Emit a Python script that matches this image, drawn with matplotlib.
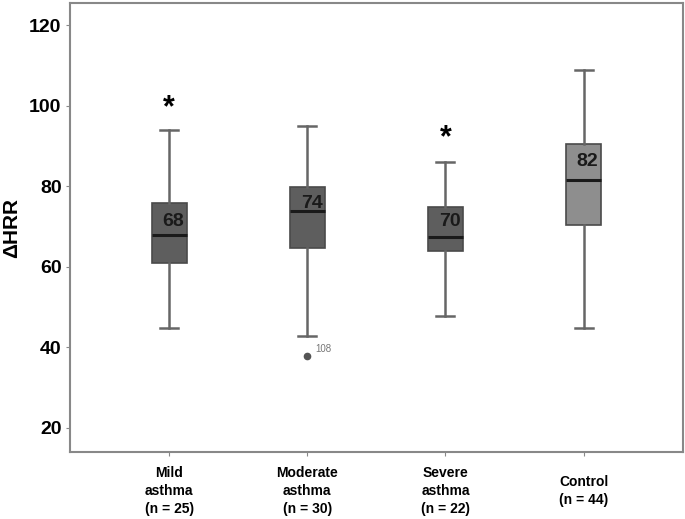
import matplotlib.pyplot as plt

plt.rcParams['font.family'] = ['Liberation Sans', 'DejaVu Sans']

# data
groups = ["Mild\nasthma\n(n = 25)", "Moderate\nasthma\n(n = 30)",
          "Severe\nasthma\n(n = 22)", "Control\n(n = 44)"]
whislo = [44.8, 42.8, 47.9, 44.9]
q1 = [60.9, 64.8, 63.9, 70.4]
med = [67.9, 73.8, 67.4, 81.5]
q3 = [75.9, 79.9, 74.9, 90.4]
whishi = [94.0, 95.0, 86.0, 109.0]
fliers = [[], [37.9], [], []]
median_labels = ["68", "74", "70", "82"]
median_label_y = [71.3, 75.7, 71.3, 86.2]
star_y = [99.5, None, 92.0, None]
box_colors = ["#5e5e5e", "#5e5e5e", "#5e5e5e", "#8e8e8e"]

stats = []
for i in range(len(groups)):
    stats.append(dict(whislo=whislo[i], q1=q1[i], med=med[i], q3=q3[i],
                      whishi=whishi[i], fliers=fliers[i]))

fig = plt.figure(figsize=(6.85, 5.19), dpi=100)
ax = fig.add_axes([0.102, 0.129, 0.895, 0.865])

pos = [1, 2, 3, 4]
bp = ax.bxp(stats, positions=pos, widths=0.25, patch_artist=True,
            showfliers=True,
            boxprops=dict(edgecolor="#4a4a4a", linewidth=1.2),
            whiskerprops=dict(color="#666666", linewidth=1.8),
            capprops=dict(color="#666666", linewidth=1.8),
            medianprops=dict(color="#1a1a1a", linewidth=2.2),
            flierprops=dict(marker="o", markerfacecolor="#555555",
                            markeredgecolor="#555555", markersize=4.5))
for box, c in zip(bp["boxes"], box_colors):
    box.set_facecolor(c)
for cap in bp["caps"]:
    x = cap.get_xdata()
    m = (x[0] + x[1]) / 2
    cap.set_xdata([m - 0.065, m + 0.065])

# numbers written on the boxes
for p, lab, y in zip(pos, median_labels, median_label_y):
    ax.text(p + 0.03, y, lab, ha="center", va="center",
            fontsize=14, fontweight="bold", color="#1a1a1a")

for p, s in zip(pos, star_y):
    if s is not None:
        ax.text(p, s, "*", ha="center", va="center", fontsize=22,
                fontweight="bold", color="black")

ax.text(2.06, 39.5, "108", fontsize=7, color="#777777", ha="left", va="center")

ax.set_xlim(0.28, 4.72)
ax.set_ylim(14, 125.5)
ax.set_yticks([20, 40, 60, 80, 100, 120])
ax.set_xticks(pos)
ax.set_xticklabels(groups, fontsize=10, fontweight="bold", linespacing=1.35)
for t in ax.get_xticklabels():
    t.set_verticalalignment("center")
ax.tick_params(axis="x", pad=25, length=3, color="#888888")
ax.tick_params(axis="y", labelsize=14, length=3, color="#888888", pad=3)
for t in ax.get_yticklabels():
    t.set_fontweight("bold")
ax.set_ylabel("ΔHRR", fontsize=15, fontweight="bold", labelpad=6)

for sp in ax.spines.values():
    sp.set_color("#888888")
    sp.set_linewidth(1.5)

fig.savefig("out.png", dpi=100)
